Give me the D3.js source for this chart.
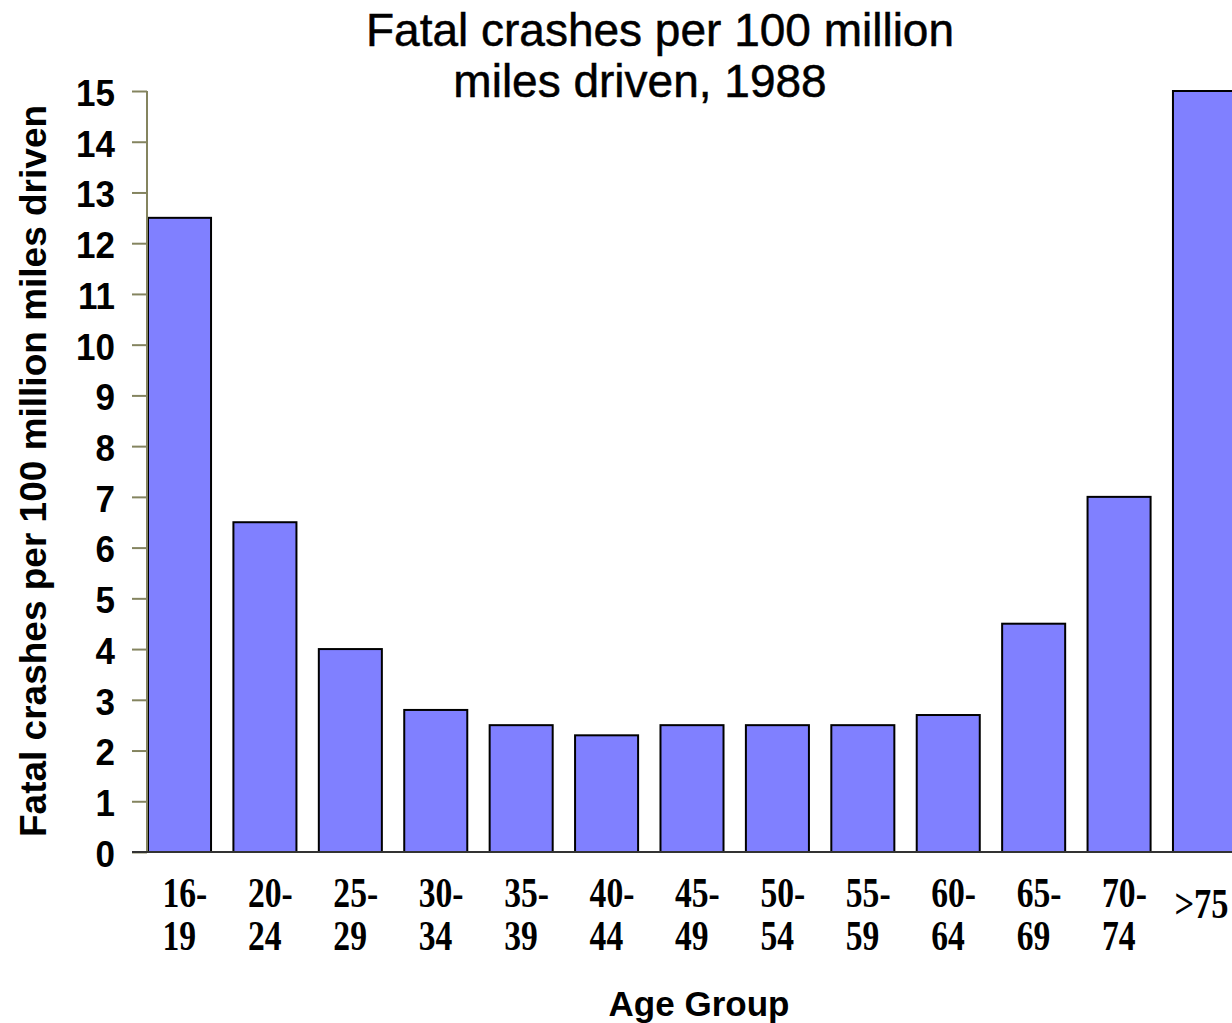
<!DOCTYPE html>
<html>
<head>
<meta charset="utf-8">
<script src="https://cdn.jsdelivr.net/npm/d3@7"></script>
<style>
  html, body { margin: 0; padding: 0; background: #fff; }
  svg { display: block; }
</style>
</head>
<body>
<svg id="chart" width="1232" height="1023"></svg>
<script>
const categories = ["16-19","20-24","25-29","30-34","35-39","40-44","45-49","50-54","55-59","60-64","65-69","70-74",">75"];
const labelLine1 = ["16-","20-","25-","30-","35-","40-","45-","50-","55-","60-","65-","70-",">75"];
const labelLine2 = ["19","24","29","34","39","44","49","54","59","64","69","74",""];
const values = [12.5, 6.5, 4.0, 2.8, 2.5, 2.3, 2.5, 2.5, 2.5, 2.7, 4.5, 7.0, 15];
const yTicks = [0,1,2,3,4,5,6,7,8,9,10,11,12,13,14,15];
const titleLines = ["Fatal crashes per 100 million", "miles driven, 1988"];
const yTitle = "Fatal crashes per 100 million miles driven";
const xTitle = "Age Group";

const svg = d3.select("#chart");
const axisColor = "#84845f";

const x = d3.scaleBand().domain(categories).range([148, 1236]).paddingInner(0.262).paddingOuter(0);
const y = d3.scaleLinear().domain([0, 15]).range([852, 91]);

// Title
[[titleLines[0], 660, 46], [titleLines[1], 640, 97]].forEach(([t, tx, ty]) => {
  svg.append("text").attr("x", tx).attr("y", ty).attr("text-anchor", "middle")
    .style("font-family", "'Liberation Sans', Arial, sans-serif").style("font-size", "46px")
    .attr("stroke", "#000").attr("stroke-width", 0.5)
    .text(t);
});

// Bars
svg.append("g").selectAll("rect").data(values).join("rect")
  .attr("x", (d, i) => x(categories[i]))
  .attr("y", d => y(d))
  .attr("width", x.bandwidth())
  .attr("height", d => y(0) - y(d))
  .attr("fill", "#8080ff")
  .attr("stroke", "#000")
  .attr("stroke-width", 2);

// Y axis
const yAxis = d3.axisLeft(y).tickValues(yTicks).tickSize(15).tickPadding(17).tickFormat(d3.format("d"));
const gy = svg.append("g").attr("transform", "translate(147,0)").call(yAxis);
gy.select(".domain").attr("stroke", axisColor).attr("stroke-width", 2).attr("d", `M0,${y(15)}V${y(0)}`);
gy.selectAll(".tick line").attr("stroke", axisColor).attr("stroke-width", 2);
gy.selectAll(".tick text")
  .style("font-family", "'Liberation Sans', Arial, sans-serif")
  .style("font-size", "35px").style("font-weight", "bold").attr("fill", "#000")
  .attr("dy", "0.38em")
  .attr("transform", function() { return "scale(1,1.08)"; })
  .attr("y", function(d) { return 0; });
// keep tick labels vertically centred after scaling
gy.selectAll(".tick text").attr("transform", "translate(0,0) scale(1,1.08)");

// X baseline
svg.append("line").attr("x1", 132).attr("x2", 1232).attr("y1", y(0)).attr("y2", y(0))
  .attr("stroke", "#333").attr("stroke-width", 2);

// X labels
const xl = svg.append("g");
const xFont = (sel) => sel.style("font-family", "'Liberation Serif', 'Times New Roman', serif")
  .style("font-size", "42px").style("font-weight", "bold");
categories.forEach((c, i) => {
  const cx = x(c) + x.bandwidth() / 2;
  if (labelLine2[i]) {
    xl.append("text").attr("transform", `translate(${cx - 17},907) scale(0.8,1)`)
      .call(xFont).text(labelLine1[i]);
    xl.append("text").attr("transform", `translate(${cx - 17},950) scale(0.8,1)`)
      .call(xFont).text(labelLine2[i]);
  } else {
    xl.append("text").attr("transform", `translate(${cx - 3},918) scale(0.82,1)`)
      .attr("text-anchor", "middle").call(xFont).text(labelLine1[i]);
  }
});

// Axis titles
svg.append("text").attr("transform", "translate(46,471) rotate(-90)").attr("text-anchor", "middle")
  .style("font-family", "'Liberation Sans', Arial, sans-serif").style("font-size", "37px").style("font-weight", "bold")
  .text(yTitle);
svg.append("text").attr("x", 699).attr("y", 1016).attr("text-anchor", "middle")
  .style("font-family", "'Liberation Sans', Arial, sans-serif").style("font-size", "35px").style("font-weight", "bold")
  .text(xTitle);
</script>
</body>
</html>
